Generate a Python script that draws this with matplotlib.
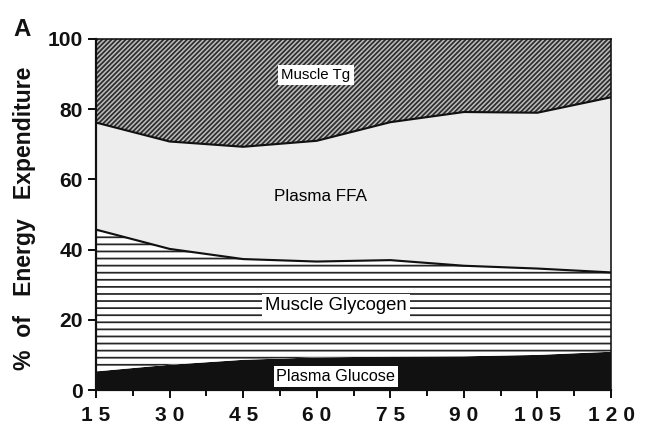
import numpy as np
import matplotlib
matplotlib.use("Agg")
import matplotlib.pyplot as plt
from matplotlib.ticker import MultipleLocator

DPI = 85
plt.rcParams['font.family'] = ['Liberation Sans', 'DejaVu Sans']
plt.rcParams['hatch.linewidth'] = 1.5


def px(v):
    """pixels -> points at the figure dpi"""
    return v * 72.0 / DPI


# Exercise time (min) and share of energy expenditure (%) from each fuel
minutes = [15, 30, 45, 60, 75, 90, 105, 120]
plasma_glucose = [5.3, 7.2, 8.6, 9.3, 9.5, 9.6, 10.0, 10.9]
muscle_glycogen = [40.4, 33.0, 28.7, 27.3, 27.5, 25.8, 24.6, 22.6]
plasma_ffa = [30.5, 30.6, 32.0, 34.4, 39.3, 43.8, 44.4, 49.9]
muscle_tg = [23.8, 29.2, 30.7, 29.0, 23.7, 20.8, 21.0, 16.6]

x_ticks = [15, 30, 45, 60, 75, 90, 105, 120]
x_tick_labels = ["1 5", "3 0", "4 5", "6 0", "7 5", "9 0", "1 0 5", "1 2 0"]
y_ticks = [0, 20, 40, 60, 80, 100]

fig = plt.figure(figsize=(646 / DPI, 427 / DPI), dpi=DPI)
ax = fig.add_axes([96 / 646, 1 - 390 / 427, 515 / 646, 351 / 427])

t = np.array(minutes)
layers = np.cumsum(np.vstack([plasma_glucose, muscle_glycogen,
                              plasma_ffa, muscle_tg]), axis=0)
base = np.zeros_like(t, dtype=float)

# Plasma glucose: solid black
ax.fill_between(t, base, layers[0], facecolor='#111111', edgecolor='none',
                linewidth=0, zorder=1)
# Muscle glycogen: horizontal rules
ax.fill_between(t, layers[0], layers[1], facecolor='white', edgecolor='#262626',
                hatch='--', linewidth=0, zorder=1)
# Plasma FFA: light grey
ax.fill_between(t, layers[1], layers[2], facecolor='#ededed', edgecolor='none',
                linewidth=0, zorder=1)
# Muscle triglyceride: dense diagonal hatching
ax.fill_between(t, layers[2], layers[3], facecolor='#bdbdbd', edgecolor='#2e2e2e',
                hatch='//////', linewidth=0, zorder=1)

# Boundary lines between fuels
ax.plot(t, layers[1], color='#111111', lw=1.8, zorder=2)
ax.plot(t, layers[2], color='#111111', lw=1.8, zorder=2)


def minute_at(xpix):
    """x position in minutes for a horizontal pixel position on the axis"""
    return 15 + (xpix - 96) / 515 * 105


# Region labels
box = dict(facecolor='white', edgecolor='none', pad=px(3))
ax.text(minute_at(316), 89.8, "Muscle Tg", ha='center', va='center',
        fontsize=px(15), bbox=box, zorder=3)
ax.text(minute_at(321), 55.0, "Plasma FFA", ha='center', va='center',
        fontsize=px(17), zorder=3)
ax.text(minute_at(336), 24.0, "Muscle Glycogen", ha='center', va='center',
        fontsize=px(18.5), bbox=box, zorder=3)
ax.text(minute_at(336), 3.8, "Plasma Glucose", ha='center', va='center',
        fontsize=px(16.3), bbox=box, zorder=3)

ax.set_xlim(15, 120)
ax.set_ylim(0, 100)
ax.set_xticks(x_ticks)
ax.set_xticklabels(x_tick_labels)
ax.xaxis.set_minor_locator(MultipleLocator(7.5))
ax.set_yticks(y_ticks)

ax.tick_params(axis='both', which='major', direction='out', length=px(8),
               width=px(2), color='#111111', labelsize=px(21))
ax.tick_params(axis='x', which='minor', direction='out', length=px(6),
               width=px(2), color='#111111')
ax.tick_params(axis='x', which='major', pad=px(8))
ax.tick_params(axis='y', which='major', pad=px(5))
for lab in ax.get_xticklabels() + ax.get_yticklabels():
    lab.set_fontweight('bold')
    lab.set_color('#111111')

for side in ['left', 'bottom']:
    ax.spines[side].set_linewidth(px(2.2))
for side in ['top', 'right']:
    ax.spines[side].set_linewidth(px(1.6))
for s in ax.spines.values():
    s.set_color('#111111')
    s.set_zorder(4)

fig.text(25 / 646, 1 - 218 / 427, "%  of   Energy   Expenditure", rotation=90,
         ha='center', va='center', fontsize=px(23), fontweight='bold',
         color='#111111')
fig.text(13 / 646, 1 - 36 / 427, "A", ha='left', va='baseline',
         fontsize=px(24), fontweight='bold', color='#111111')

fig.savefig("out.png", dpi=DPI, facecolor='white')
